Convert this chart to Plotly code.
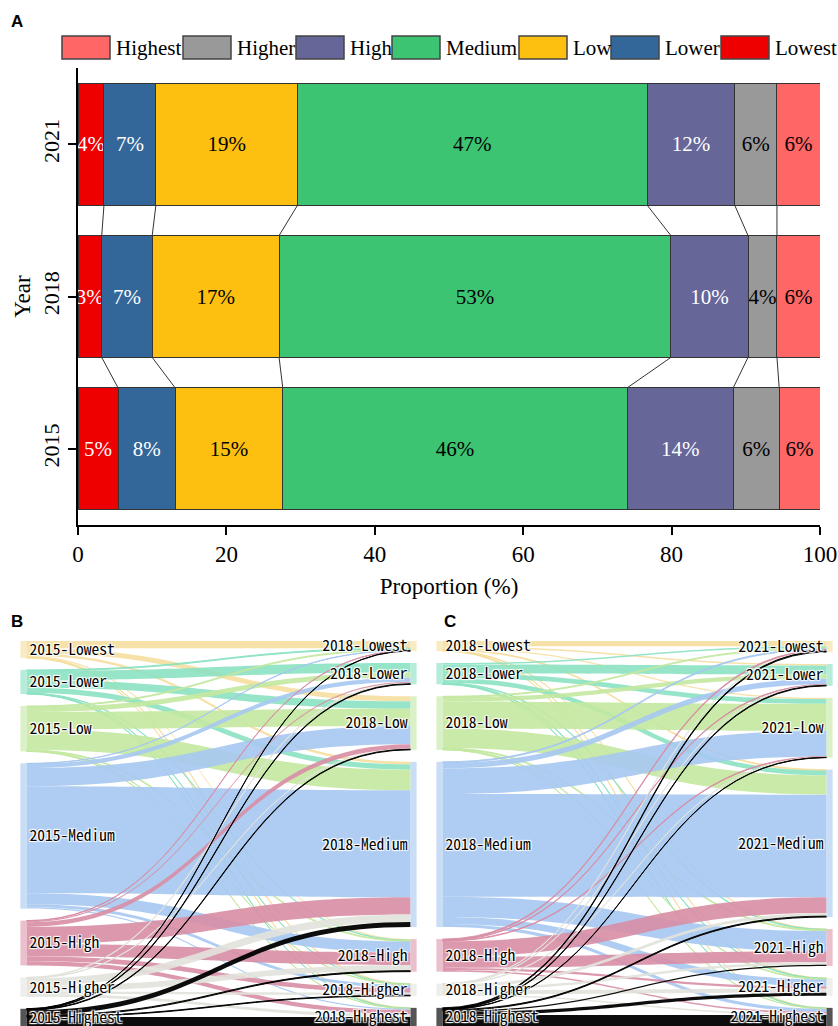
import plotly.graph_objects as go

# ---------------- data ----------------
years = ["2015", "2018", "2021"]
classes = ["Lowest", "Lower", "Low", "Medium", "High", "Higher", "Highest"]
share_2015 = [5.4, 7.7, 14.5, 46.4, 14.3, 6.2, 5.5]
share_2018 = [3.2, 6.8, 17.1, 52.8, 10.4, 3.9, 5.8]
share_2021 = [3.5, 7.0, 19.1, 47.1, 11.8, 5.7, 5.8]

# transition flows (rows: from-class, cols: to-class), % of area
flows_2015_2018 = [
    [2.3, 0.0, 1.6, 0.8, 0.4, 0.2, 0.1],
    [0.3, 3.0, 2.4, 1.7, 0.1, 0.1, 0.1],
    [0.3, 1.6, 5.5, 6.6, 0.3, 0.1, 0.1],
    [0.1, 1.4, 5.8, 34.2, 3.5, 1.0, 0.4],
    [0.1, 0.4, 1.5, 5.5, 4.0, 1.5, 1.3],
    [0.0, 0.2, 0.1, 2.4, 1.8, 0.8, 0.9],
    [0.1, 0.2, 0.2, 1.6, 0.3, 0.2, 2.9],
]
flows_2018_2021 = [
    [1.7, 0.5, 0.4, 0.3, 0.1, 0.1, 0.1],
    [0.5, 2.8, 1.5, 1.5, 0.2, 0.2, 0.1],
    [0.3, 1.4, 8.6, 6.2, 0.3, 0.2, 0.1],
    [0.3, 1.8, 8.2, 32.8, 6.5, 2.2, 1.0],
    [0.3, 0.2, 0.2, 5.0, 3.5, 0.7, 0.5],
    [0.1, 0.1, 0.1, 1.0, 0.8, 1.3, 0.5],
    [0.3, 0.2, 0.1, 0.3, 0.4, 1.0, 3.5],
]

legend_order = ["Highest", "Higher", "High", "Medium", "Low", "Lower", "Lowest"]

# ---------------- styles ----------------
bar_colors = {"Lowest": "#EE0000", "Lower": "#336699", "Low": "#FDC010",
              "Medium": "#3CC472", "High": "#666699", "Higher": "#999999",
              "Highest": "#FF6666"}
text_colors = {"Lowest": "white", "Lower": "white", "Low": "black",
               "Medium": "black", "High": "white", "Higher": "black",
               "Highest": "black"}
link_colors = ["rgba(245,222,158,0.9)", "rgba(140,226,194,0.9)", "rgba(195,232,160,0.9)",
               "rgba(166,200,241,0.9)", "rgba(216,142,165,0.9)", "rgba(226,226,220,0.9)",
               "rgba(0,0,0,0.95)"]
node_colors = ["#F8EAC2", "#B6ECD8", "#DAF0C6", "#CADDF6", "#EBC0CC", "#EEEEEA", "#555555"]

SERIF = "Liberation Serif"
W, H = 838, 1026

fig = go.Figure()

shares = [share_2015, share_2018, share_2021]
ypos = list(range(len(years)))
BAR_W = 0.8

# ---------------- panel A: stacked bars ----------------
for k, c in enumerate(classes):
    vals = [s[k] for s in shares]
    fig.add_trace(go.Bar(
        y=ypos, x=vals, orientation="h", width=BAR_W,
        marker=dict(color=bar_colors[c], line=dict(color="#333333", width=1)),
        text=[f"{int(v + 0.5)}%" for v in vals],
        textposition="inside", insidetextanchor="middle", textangle=0,
        constraintext="none",
        textfont=dict(family=SERIF, size=21, color=text_colors[c]),
        name=c, showlegend=False, hoverinfo="skip",
    ))

# connector lines between adjacent bars
def cumsum(a):
    out, t = [], 0.0
    for v in a:
        t += v
        out.append(t)
    return out

for yi in range(len(years) - 1):
    lo = cumsum(shares[yi])
    hi = cumsum(shares[yi + 1])
    for b in range(len(classes) - 1):
        fig.add_trace(go.Scatter(
            x=[hi[b], lo[b]], y=[ypos[yi + 1] - BAR_W / 2, ypos[yi] + BAR_W / 2],
            mode="lines", line=dict(color="#333333", width=1),
            showlegend=False, hoverinfo="skip",
        ))

fig.update_layout(
    barmode="stack",
    xaxis=dict(domain=[78 / W, 820 / W], range=[0, 100], tickvals=[0, 20, 40, 60, 80, 100],
               ticks="outside", ticklen=8, tickwidth=1.5, tickcolor="black",
               showline=True, linecolor="black", linewidth=1.5,
               showgrid=False, zeroline=False, automargin=False,
               tickfont=dict(family=SERIF, size=23, color="black"),
               title=dict(text="Proportion (%)", font=dict(family=SERIF, size=23, color="black"),
                          standoff=12)),
    yaxis=dict(domain=[1 - 525 / H, 1 - 68 / H], range=[-0.5, 2.5],
               tickvals=ypos, ticktext=years, tickangle=-90,
               ticks="outside", ticklen=8, tickwidth=1.5, tickcolor="black",
               showline=True, linecolor="black", linewidth=1.5,
               showgrid=False, zeroline=False, automargin=False,
               tickfont=dict(family=SERIF, size=22, color="black"),
               title=dict(text="Year", font=dict(family=SERIF, size=23, color="black"),
                          standoff=2)),
)

# manual legend
legend_rect_x = [62, 183, 296, 392, 519, 611, 721]
shapes = []
annotations = []
for c, x0 in zip(legend_order, legend_rect_x):
    shapes.append(dict(type="rect", xref="paper", yref="paper",
                       x0=x0 / W, x1=(x0 + 48) / W, y0=1 - 59 / H, y1=1 - 36 / H,
                       fillcolor=bar_colors[c], line=dict(color="#444444", width=1.5)))
    annotations.append(dict(xref="paper", yref="paper", x=(x0 + 52) / W, y=1 - 48 / H,
                            text=c, showarrow=False, xanchor="left", yanchor="middle",
                            font=dict(family=SERIF, size=21, color="black")))

for lab, px, py in [("A", 17, 22), ("B", 17, 621), ("C", 450, 621)]:
    annotations.append(dict(xref="paper", yref="paper", x=px / W, y=1 - py / H, text=f"<b>{lab}</b>",
                            showarrow=False, xanchor="center", yanchor="middle",
                            font=dict(family="Liberation Sans", size=17, color="black")))

# ---------------- panels B and C: sankeys ----------------
SK_TOP, SK_BOT = 641, 1026
SK_H = SK_BOT - SK_TOP
PAD = 12

def node_centres(tot, ky):
    ys, acc = [], 0.0
    for v in tot:
        h = v * ky
        ys.append((acc + h / 2) / SK_H)
        acc += h + PAD
    return ys

def add_sankey(y0, y1, flows, px_left, px_right):
    n = len(classes)
    labels = [f"{y0}-{c}" for c in classes] + [f"{y1}-{c}" for c in classes]
    src, tgt, val, col = [], [], [], []
    for i in range(n):
        for j in range(n):
            if flows[i][j] > 0:
                src.append(i); tgt.append(n + j); val.append(flows[i][j]); col.append(link_colors[i])
    out_tot = [sum(r) for r in flows]
    in_tot = [sum(flows[i][j] for i in range(n)) for j in range(n)]
    ky = min((SK_H - (n - 1) * PAD) / sum(out_tot), (SK_H - (n - 1) * PAD) / sum(in_tot))
    ys = node_centres(out_tot, ky) + node_centres(in_tot, ky)
    xs = [0.001] * n + [0.999] * n
    fig.add_trace(go.Sankey(
        domain=dict(x=[px_left / W, px_right / W], y=[1 - SK_BOT / H, 1 - SK_TOP / H]),
        arrangement="fixed",
        node=dict(label=labels, x=xs, y=ys, pad=PAD, thickness=6,
                  color=node_colors + node_colors, line=dict(width=0)),
        link=dict(source=src, target=tgt, value=val, color=col),
        textfont=dict(family="Noto Sans Mono CJK SC, Liberation Mono", size=15.5, color="black"),
        hoverinfo="skip",
    ))

add_sankey(years[0], years[1], flows_2015_2018, 23, 414)
add_sankey(years[1], years[2], flows_2018_2021, 439, 830)

fig.update_layout(
    width=W, height=H, autosize=False, margin=dict(l=0, r=0, t=0, b=0, pad=0),
    showlegend=False,
    paper_bgcolor="white", plot_bgcolor="white",
    shapes=shapes, annotations=annotations,
    font=dict(family=SERIF, color="black"),
)

fig.write_html(
    "out.html",
    config={"responsive": False, "displayModeBar": False},
    post_script="document.body.style.margin='0';document.body.style.padding='0';"
                "document.documentElement.style.overflow='hidden';document.body.style.overflow='hidden';",
)
